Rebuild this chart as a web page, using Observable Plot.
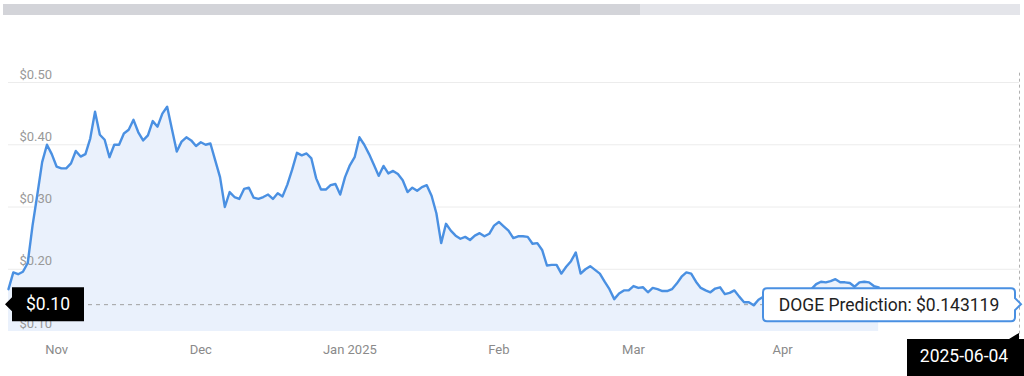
<!DOCTYPE html>
<html><head><meta charset="utf-8">
<script src="https://cdn.jsdelivr.net/npm/d3@7"></script>
<script src="https://cdn.jsdelivr.net/npm/@observablehq/plot@0.6"></script>
<style>
html,body{margin:0;padding:0;background:#fff;}
body{width:1024px;height:376px;overflow:hidden;position:relative;font-family:Roboto,"Noto Sans",sans-serif;}
#bar{position:absolute;left:3px;top:4px;width:1017px;height:11px;background:#e4e5ea;}
#bar>div{width:637px;height:100%;background:#d3d4d9;}
#chart{position:absolute;left:0;top:0;}
</style></head><body>
<div id="bar"><div></div></div>
<div id="chart"></div>
<script>
const startDate = "2024-10-22";
const dailyPrice = [
0.168,0.195,0.192,0.196,0.21,0.27,0.32,0.372,0.40,0.385,
0.365,0.362,0.362,0.37,0.39,0.381,0.385,0.41,0.453,0.416,
0.408,0.38,0.40,0.40,0.418,0.424,0.44,0.42,0.407,0.415,
0.438,0.429,0.45,0.461,0.425,0.389,0.405,0.412,0.407,0.398,
0.404,0.40,0.402,0.375,0.348,0.30,0.324,0.316,0.313,0.329,
0.331,0.315,0.313,0.316,0.32,0.313,0.322,0.317,0.336,0.36,
0.387,0.383,0.386,0.378,0.346,0.328,0.328,0.335,0.337,0.32,
0.348,0.367,0.38,0.412,0.40,0.385,0.368,0.35,0.366,0.354,
0.358,0.353,0.343,0.324,0.331,0.326,0.332,0.335,0.318,0.29,
0.242,0.273,0.262,0.254,0.249,0.252,0.247,0.254,0.258,0.253,
0.257,0.27,0.276,0.269,0.262,0.25,0.253,0.253,0.252,0.241,
0.242,0.231,0.206,0.207,0.207,0.193,0.204,0.213,0.227,0.193,
0.20,0.205,0.199,0.193,0.18,0.168,0.152,0.161,0.166,0.166,
0.173,0.17,0.171,0.163,0.17,0.168,0.165,0.165,0.168,0.177,
0.188,0.195,0.193,0.18,0.17,0.166,0.163,0.169,0.171,0.16,
0.162,0.166,0.156,0.147,0.147,0.142,0.151,0.156,0.159,0.16,
0.158,0.16,0.163,0.165,0.163,0.162,0.165,0.168,0.176,0.18,
0.179,0.181,0.184,0.179,0.179,0.178,0.172,0.179,0.18,0.179,
0.173,0.171
];
const domainEnd = "2025-05-20T07:00:00Z";
const yTicks = [0.1, 0.2, 0.3, 0.4, 0.5];
const gridTicks = [0.2, 0.3, 0.4, 0.5];
const monthTicks = ["2024-11-01","2024-12-01","2025-01-01","2025-02-01","2025-03-01","2025-04-01"];
const monthLabels = ["Nov","Dec","Jan 2025","Feb","Mar","Apr"];
const predictionValue = 0.143119;
const predictionDate = "2025-06-04";
const predictionLabel = "DOGE Prediction: $0.143119";
const currentLabel = "$0.10";

const dates = d3.utcDay.range(new Date(startDate), d3.utcDay.offset(new Date(startDate), dailyPrice.length));
const data = dailyPrice.map((p, i) => ({date: dates[i], price: p}));

const chart = Plot.plot({
  width: 1024, height: 376,
  marginTop: 82, marginBottom: 45, marginLeft: 8, marginRight: 5,
  style: {fontFamily: "Roboto, 'Noto Sans', sans-serif", background: "transparent", overflow: "visible"},
  x: {type: "utc", domain: [new Date(startDate), new Date(domainEnd)], axis: null},
  y: {domain: [0.1, 0.5], axis: null},
  marks: [
    Plot.ruleY(gridTicks, {stroke: "#ececec", strokeWidth: 1}),
    Plot.areaY(data, {x: "date", y1: 0.1, y2: "price", fill: "#eaf1fc"}),
    Plot.text(yTicks, {y: d => d, text: d => "$" + d.toFixed(2), frameAnchor: "left", textAnchor: "start", dx: 11, dy: -8, fill: "#999999", fontSize: 13}),
    Plot.ruleY([predictionValue], {stroke: "#a0a0a0", strokeDasharray: "4,4"}),
    Plot.lineY(data, {x: "date", y: "price", stroke: "#4a90e2", strokeWidth: 2.4}),
    Plot.text(monthTicks, {x: d => new Date(d), text: (d, i) => monthLabels[i], frameAnchor: "bottom", dy: 22, fill: "#8a8a8a", fontSize: 13}),
    Plot.ruleX([new Date(domainEnd)], {y1: 0.515, y2: 0.09, stroke: "#b0b0b0", strokeDasharray: "3,3"})
  ]
});
document.getElementById("chart").appendChild(chart);

const sx = chart.scale("x"), sy = chart.scale("y");
const yP = sy.apply(predictionValue);
const xL = sx.apply(new Date(startDate));
const xR = sx.apply(new Date(domainEnd));
const yB = sy.apply(0.1);
const g = d3.select(chart).append("g").attr("font-family", "Roboto, 'Noto Sans', sans-serif");

// current price label
g.append("path")
  .attr("d", `M${xL-3},${yP} L${xL+4},${yP-7} L${xL+4},${yP-17} L${xL+76},${yP-17} L${xL+76},${yP+17} L${xL+4},${yP+17} L${xL+4},${yP+7} Z`)
  .attr("fill", "#000");
g.append("text").attr("x", xL + 40).attr("y", yP).attr("dy", "0.35em")
  .attr("text-anchor", "middle").attr("fill", "#fff").attr("font-size", 17.5).text(currentLabel);

// prediction callout
const x0 = xR - 256, x1 = xR - 4, y0 = yP - 16, y1 = yP + 17, r = 4;
g.append("path")
  .attr("d", `M${x0+r},${y0} H${x1-r} Q${x1},${y0} ${x1},${y0+r} V${yP-6} L${x1+6},${yP} L${x1},${yP+6} V${y1-r} Q${x1},${y1} ${x1-r},${y1} H${x0+r} Q${x0},${y1} ${x0},${y1-r} V${y0+r} Q${x0},${y0} ${x0+r},${y0} Z`)
  .attr("fill", "#fff").attr("stroke", "#4a90e2").attr("stroke-width", 2);
g.append("text").attr("x", (x0 + x1) / 2).attr("y", (y0 + y1) / 2).attr("dy", "0.35em")
  .attr("text-anchor", "middle").attr("fill", "#222").attr("font-size", 17.5).text(predictionLabel);

// date label
const bx0 = xR - 112, by0 = yB + 8;
g.append("path")
  .attr("d", `M${bx0},${by0} L${xR-10},${by0} L${xR},${by0-6} L${xR},${by0} L${xR+6},${by0} L${xR+6},${by0+40} L${bx0},${by0+40} Z`)
  .attr("fill", "#000");
g.append("text").attr("x", bx0 + 57).attr("y", by0 + 17).attr("dy", "0.35em")
  .attr("text-anchor", "middle").attr("fill", "#fff").attr("font-size", 17.5).text(predictionDate);
</script>
</body></html>
